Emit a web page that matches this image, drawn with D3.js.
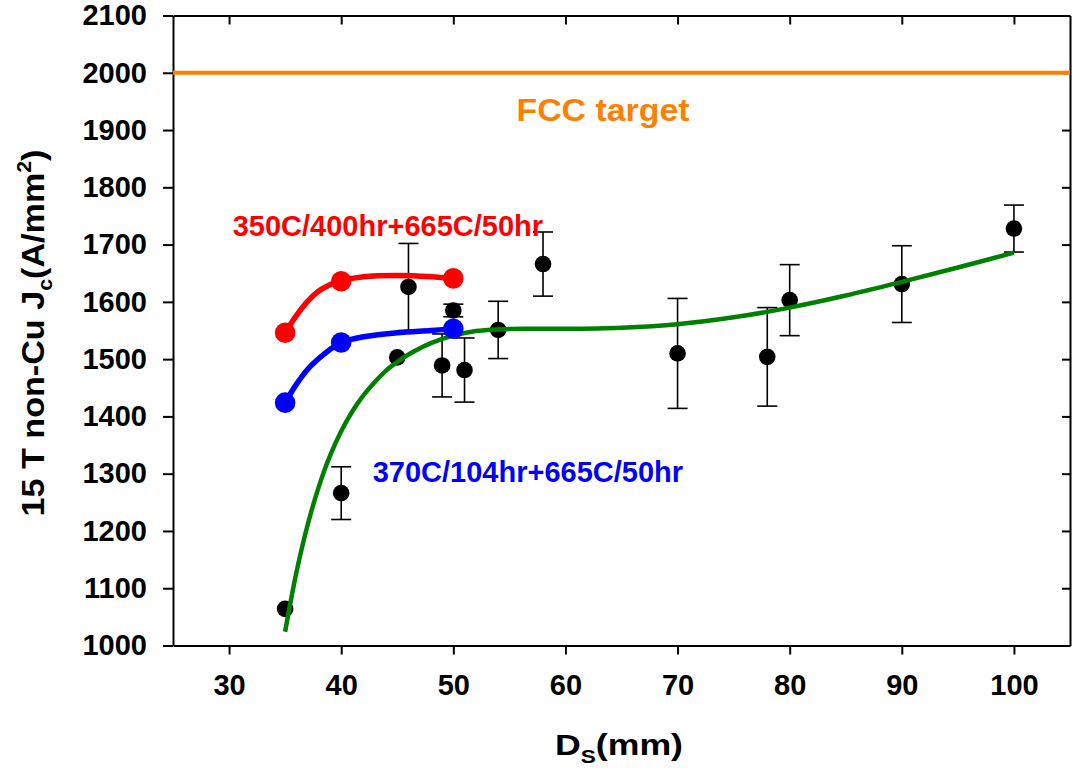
<!DOCTYPE html>
<html>
<head>
<meta charset="utf-8">
<script src="https://cdnjs.cloudflare.com/ajax/libs/d3/7.8.5/d3.min.js"></script>
<style>
    body { margin: 0; background: #fff; }
    text { font-family: "Liberation Sans", Arial, sans-serif; font-weight: bold; }
</style>
</head>
<body>
<div id="chart"></div>
<script>
// measured points (black dots with error bars)
var ds = [35, 40, 45, 46, 49, 50, 51, 54, 58, 70, 78, 80, 90, 100];
var jc = [1064, 1266, 1503, 1626, 1489, 1585, 1481, 1551, 1666, 1510, 1504, 1603, 1631, 1728];
var jcErr = [0, 46, 0, 76, 55, 11, 56, 50, 56, 96, 86, 62, 67, 41];

// heat treatment series
var htDs = [35, 40, 50];
var ht350 = [1546, 1636, 1641];
var ht370 = [1424, 1529, 1553];

// fitted curves
var fit350Ds = [35, 36, 37, 38, 39, 40, 42, 45, 48, 50];
var fit350Jc = [1546, 1576, 1601, 1619, 1630, 1637, 1644, 1646, 1644, 1641];
var fit370Ds = [35, 36, 37, 38, 39, 40, 42, 45, 48, 50];
var fit370Jc = [1424, 1456, 1482, 1501, 1517, 1529, 1539, 1546, 1550, 1553];
var fitAllDs = [35, 36, 37, 38, 39, 40, 41, 42, 43, 44, 45, 46, 48, 50, 52, 54, 57, 60, 65, 70, 75, 80, 85, 90, 95, 100];
var fitAllJc = [1024, 1127, 1210, 1277, 1331, 1374, 1409, 1437, 1460, 1480, 1495, 1508, 1528, 1541, 1549, 1552, 1553, 1553, 1555, 1561, 1573, 1590, 1611, 1635, 1660, 1686];

var fccTarget = 2000;
var xTicks = [30, 40, 50, 60, 70, 80, 90, 100];
var yTicks = [1000, 1100, 1200, 1300, 1400, 1500, 1600, 1700, 1800, 1900, 2000, 2100];

var svg = d3.select("#chart").append("svg"),
    svg_width = 1076, svg_height = 771;
svg.attr("width", svg_width).attr("height", svg_height);

var margin = {top: 15.5, right: 6, bottom: 125.5, left: 173},
    width = svg_width - margin.left - margin.right,
    height = svg_height - margin.top - margin.bottom,
    g = svg.append("g").attr("transform", "translate(" + margin.left + "," + margin.top + ")");

var x = d3.scaleLinear().domain([25, 105]).range([0, width]);
var y = d3.scaleLinear().domain([1000, 2100]).range([height, 0]);

// axes: left/bottom ticks outward, top/right ticks inward
g.append("g")
    .attr("class", "axis")
    .attr("transform", "translate(0," + height + ")")
    .call(d3.axisBottom(x).tickValues(xTicks).tickSize(9).tickSizeOuter(0).tickPadding(20).tickFormat(d3.format("d")))
    .selectAll("text").attr("font-size", 29);

g.append("g")
    .attr("class", "axis")
    .call(d3.axisLeft(y).tickValues(yTicks).tickSize(10).tickSizeOuter(0).tickPadding(16).tickFormat(d3.format("d")))
    .selectAll("text").attr("font-size", 29);

g.append("g")
    .attr("class", "axis")
    .call(d3.axisTop(x).tickValues(xTicks).tickSize(-9).tickSizeOuter(0).tickFormat(""));

g.append("g")
    .attr("class", "axis")
    .attr("transform", "translate(" + width + ",0)")
    .call(d3.axisRight(y).tickValues(yTicks).tickSize(-8).tickSizeOuter(0).tickFormat(""));

g.selectAll(".axis path").attr("stroke", "#000").attr("stroke-width", 2);
g.selectAll(".axis line").attr("stroke", "#000").attr("stroke-width", 2);
g.selectAll(".axis text").attr("fill", "#000").attr("font-family", "Liberation Sans, Arial, sans-serif");

// FCC target line
g.append("line")
    .attr("x1", 0)
    .attr("x2", width)
    .attr("y1", y(fccTarget))
    .attr("y2", y(fccTarget))
    .attr("stroke", "#ff8000")
    .attr("stroke-width", 4);

g.append("text")
    .attr("x", 430)
    .attr("y", 105)
    .attr("text-anchor", "middle")
    .attr("fill", "#ff8000")
    .attr("font-size", 32)
    .attr("textLength", 173)
    .attr("lengthAdjust", "spacingAndGlyphs")
    .text("FCC target");

// error bars
var pts = ds.map(function(d, i) { return {x: d, y: jc[i], e: jcErr[i]}; });
var bars = g.append("g").selectAll("g")
    .data(pts.filter(function(d) { return d.e > 0; }))
    .enter().append("g")
    .attr("stroke", "#000")
    .attr("stroke-width", 1.6);

bars.append("line")
    .attr("x1", function(d) { return x(d.x); })
    .attr("x2", function(d) { return x(d.x); })
    .attr("y1", function(d) { return y(d.y + d.e); })
    .attr("y2", function(d) { return y(d.y - d.e); });
bars.append("line")
    .attr("x1", function(d) { return x(d.x) - 10; })
    .attr("x2", function(d) { return x(d.x) + 10; })
    .attr("y1", function(d) { return y(d.y + d.e); })
    .attr("y2", function(d) { return y(d.y + d.e); });
bars.append("line")
    .attr("x1", function(d) { return x(d.x) - 10; })
    .attr("x2", function(d) { return x(d.x) + 10; })
    .attr("y1", function(d) { return y(d.y - d.e); })
    .attr("y2", function(d) { return y(d.y - d.e); });

g.append("g").selectAll("circle")
    .data(pts)
    .enter().append("circle")
    .attr("cx", function(d) { return x(d.x); })
    .attr("cy", function(d) { return y(d.y); })
    .attr("r", 8.3)
    .attr("fill", "#000");

// fitted lines
var line = d3.line()
    .x(function(d) { return x(d[0]); })
    .y(function(d) { return y(d[1]); })
    .curve(d3.curveCatmullRom.alpha(0.5));

function zip(a, b) { return a.map(function(d, i) { return [d, b[i]]; }); }

g.append("path")
    .datum(zip(fitAllDs, fitAllJc))
    .attr("d", line)
    .attr("fill", "none")
    .attr("stroke", "#008000")
    .attr("stroke-width", 4.5);

var series = [
    {fitX: fit350Ds, fitY: fit350Jc, vals: ht350, color: "#ff0000"},
    {fitX: fit370Ds, fitY: fit370Jc, vals: ht370, color: "#0000ff"}
];

series.forEach(function(s) {
    g.append("path")
        .datum(zip(s.fitX, s.fitY))
        .attr("d", line)
        .attr("fill", "none")
        .attr("stroke", s.color)
        .attr("stroke-width", 5.5);
    g.append("g").selectAll("circle")
        .data(zip(htDs, s.vals))
        .enter().append("circle")
        .attr("cx", function(d) { return x(d[0]); })
        .attr("cy", function(d) { return y(d[1]); })
        .attr("r", 10.3)
        .attr("fill", s.color);
});

g.append("text")
    .attr("x", 232.7 - margin.left)
    .attr("y", 236 - margin.top)
    .attr("fill", "#ff0000")
    .attr("font-size", 29)
    .text("350C/400hr+665C/50hr");

g.append("text")
    .attr("x", 372.7 - margin.left)
    .attr("y", 482 - margin.top)
    .attr("fill", "#0000ff")
    .attr("font-size", 29)
    .text("370C/104hr+665C/50hr");

// axis titles
var xt = svg.append("text")
    .attr("x", 619)
    .attr("y", 755)
    .attr("text-anchor", "middle")
    .attr("font-size", 30)
    .attr("textLength", 128)
    .attr("lengthAdjust", "spacingAndGlyphs");
xt.append("tspan").text("D");
xt.append("tspan").attr("font-size", 19).attr("dy", 8).text("S");
xt.append("tspan").attr("dy", -8).text("(mm)");

var yt = svg.append("text")
    .attr("transform", "translate(44,333) rotate(-90)")
    .attr("text-anchor", "middle")
    .attr("font-size", 32)
    .attr("textLength", 367)
    .attr("lengthAdjust", "spacingAndGlyphs");
yt.append("tspan").text("15 T non-Cu J");
yt.append("tspan").attr("font-size", 20).attr("dy", 8).text("c");
yt.append("tspan").attr("dy", -8).text("(A/mm");
yt.append("tspan").attr("font-size", 20).attr("dy", -13).text("2");
yt.append("tspan").attr("dy", 13).text(")");
</script>
</body>
</html>
